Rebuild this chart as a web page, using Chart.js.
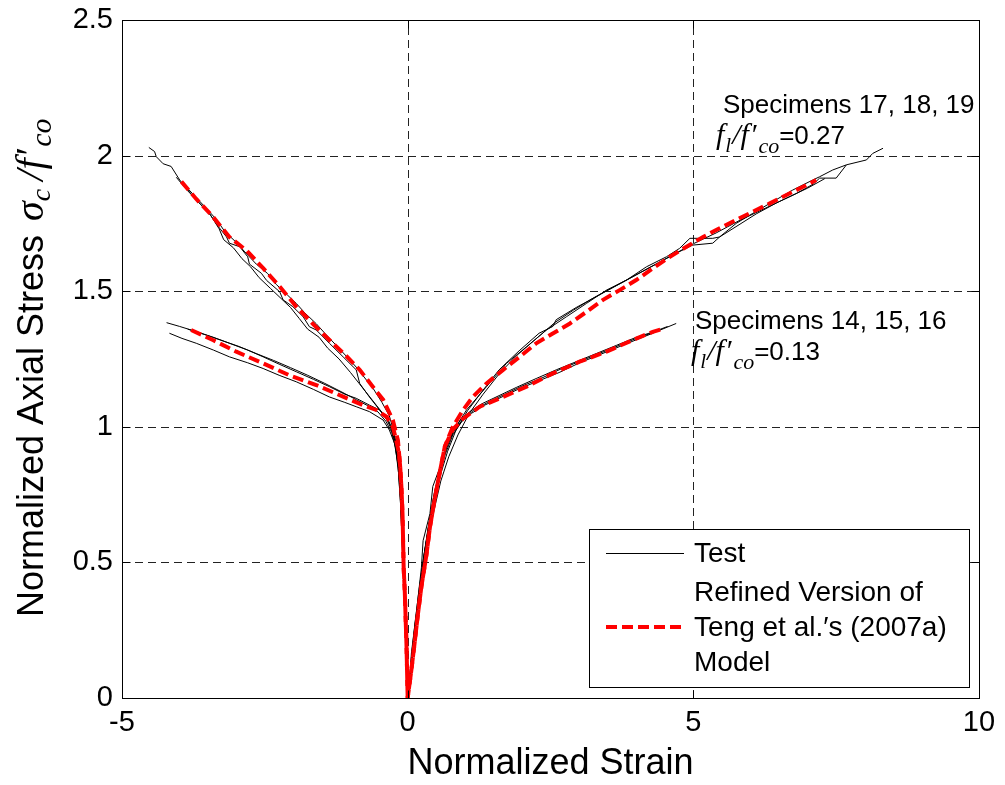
<!DOCTYPE html>
<html>
<head>
<meta charset="utf-8">
<script src="https://cdn.jsdelivr.net/npm/chart.js@4.4.1/dist/chart.umd.min.js"></script>
<style>
html,body{margin:0;padding:0;background:#fff;}
#wrap{width:1005px;height:785px;position:relative;}
</style>
</head>
<body>
<div id="wrap"><canvas id="c" width="1005" height="785"></canvas></div>
<script>
// ---------- axis ticks ----------
const xTickValues = [-5, 0, 5, 10];
const xTickLabels = ['-5', '0', '5', '10'];
const yTickValues = [0, 0.5, 1, 1.5, 2, 2.5];
const yTickLabels = ['0', '0.5', '1', '1.5', '2', '2.5'];

const xTitle = 'Normalized Strain';
const yTitle = 'Normalized Axial Stress ';
const legendTest = 'Test';
const legendModel = ['Refined Version of', 'Teng et al.\u2032s (2007a)', 'Model'];

// ---------- Specimen 17 (f_l/f'co = 0.27) ----------
const s17LatStrain = [-4.53,-4.43,-4.40,-4.28,-4.14,-3.99,-3.70,-3.47,-3.32,-3.17,-3.12,-2.94,-2.80,-2.77,-2.56,-2.47,-2.24,-2.18,-2.01,-1.83,-1.72,-1.60,-1.37,-1.13,-0.90,-0.84,-0.67,-0.49,-0.32,-0.23,-0.16,-0.12,-0.09,-0.06,-0.03,0];
const s17LatStress = [2.03,2.015,1.996,1.97,1.96,1.91,1.836,1.787,1.74,1.70,1.677,1.664,1.627,1.60,1.566,1.54,1.498,1.468,1.443,1.406,1.369,1.357,1.308,1.258,1.21,1.16,1.11,1.062,1.013,0.95,0.85,0.72,0.55,0.38,0.18,0];
const s17AxStrain = [0.035,0.065,0.15,0.24,0.27,0.39,0.44,0.59,0.74,1.03,1.38,1.73,2.08,2.43,2.78,3.13,3.48,3.83,4.18,4.53,4.76,4.94,5.17,5.34,5.46,5.75,6.04,6.39,6.74,7.09,7.21,7.44,7.68,8.03,8.14,8.32];
const s17AxStress = [0.066,0.165,0.31,0.48,0.58,0.68,0.78,0.865,0.963,1.062,1.148,1.234,1.295,1.357,1.406,1.455,1.504,1.541,1.59,1.627,1.658,1.695,1.695,1.695,1.70,1.75,1.787,1.83,1.873,1.91,1.922,1.947,1.966,1.984,2.008,2.027];

// ---------- Specimen 18 ----------
const s18LatStrain = [-4.05,-3.85,-3.62,-3.45,-3.30,-3.22,-3.05,-2.90,-2.75,-2.60,-2.40,-2.20,-2.05,-1.90,-1.75,-1.55,-1.40,-1.20,-1.00,-0.85,-0.70,-0.55,-0.40,-0.28,-0.20,-0.15,-0.11,-0.08,-0.05,-0.02,0];
const s18LatStress = [1.92,1.87,1.82,1.78,1.73,1.69,1.66,1.62,1.59,1.55,1.51,1.47,1.44,1.40,1.36,1.33,1.29,1.25,1.20,1.16,1.12,1.08,1.04,0.99,0.93,0.83,0.70,0.55,0.37,0.17,0];
const s18AxStrain = [0.03,0.07,0.13,0.20,0.28,0.36,0.46,0.57,0.70,0.85,1.05,1.30,1.60,1.95,2.30,2.54,2.60,2.95,3.30,3.65,4.00,4.35,4.70,4.99,5.34,5.46,5.80,6.10,6.45,6.80,7.10,7.21,7.50,7.68];
const s18AxStress = [0.06,0.16,0.28,0.40,0.52,0.62,0.72,0.82,0.91,0.99,1.06,1.13,1.21,1.28,1.345,1.37,1.395,1.44,1.48,1.52,1.56,1.60,1.64,1.67,1.677,1.70,1.745,1.785,1.825,1.86,1.895,1.917,1.917,1.966];

// ---------- Specimen 19 ----------
const s19LatStrain = [-3.90,-3.70,-3.50,-3.35,-3.20,-3.00,-2.85,-2.65,-2.45,-2.30,-2.10,-1.95,-1.80,-1.60,-1.45,-1.25,-1.05,-0.90,-0.75,-0.60,-0.45,-0.32,-0.24,-0.17,-0.13,-0.10,-0.07,-0.04,-0.015,0];
const s19LatStress = [1.89,1.845,1.80,1.765,1.72,1.68,1.645,1.60,1.565,1.525,1.485,1.455,1.42,1.38,1.345,1.30,1.255,1.22,1.18,1.14,1.09,1.04,0.98,0.90,0.80,0.66,0.50,0.33,0.15,0];
const s19AxStrain = [0.04,0.08,0.14,0.21,0.29,0.37,0.47,0.58,0.72,0.88,1.08,1.32,1.62,1.92,2.25,2.58,2.90,3.25,3.60,3.95,4.30,4.65,5.00,5.40,5.80,6.20,6.60,7.00,7.30];
const s19AxStress = [0.05,0.14,0.26,0.38,0.50,0.60,0.70,0.80,0.89,0.97,1.05,1.12,1.20,1.265,1.325,1.385,1.43,1.475,1.515,1.555,1.595,1.635,1.675,1.715,1.76,1.80,1.84,1.88,1.915];

// ---------- Specimen 14 (f_l/f'co = 0.13) ----------
const s14LatStrain = [-4.22,-3.99,-3.70,-3.40,-3.12,-2.80,-2.53,-2.25,-1.95,-1.65,-1.37,-1.10,-0.90,-0.67,-0.49,-0.34,-0.26,-0.20,-0.15,-0.11,-0.08,-0.05,-0.02,0];
const s14LatStress = [1.384,1.37,1.351,1.33,1.308,1.283,1.258,1.231,1.203,1.175,1.148,1.12,1.105,1.08,1.062,1.025,0.988,0.939,0.85,0.72,0.56,0.38,0.17,0];
const s14AxStrain = [0.04,0.08,0.15,0.23,0.30,0.38,0.46,0.56,0.67,0.80,0.96,1.15,1.40,1.70,2.00,2.35,2.70,3.00,3.35,3.70,4.05,4.40,4.70];
const s14AxStress = [0.06,0.16,0.29,0.42,0.54,0.65,0.75,0.84,0.92,0.98,1.025,1.06,1.09,1.12,1.15,1.18,1.215,1.24,1.27,1.30,1.33,1.355,1.381];

// ---------- Specimen 15 ----------
const s15LatStrain = [-4.17,-3.95,-3.70,-3.40,-3.12,-2.80,-2.53,-2.25,-1.95,-1.65,-1.37,-1.10,-0.90,-0.67,-0.43,-0.32,-0.23,-0.17,-0.13,-0.10,-0.07,-0.04,-0.015,0];
const s15LatStress = [1.345,1.326,1.308,1.283,1.258,1.236,1.215,1.19,1.166,1.138,1.11,1.09,1.074,1.056,1.025,0.988,0.939,0.86,0.74,0.60,0.44,0.28,0.13,0];
const s15AxStrain = [0.03,0.07,0.13,0.21,0.28,0.36,0.45,0.55,0.66,0.79,0.95,1.12,1.35,1.65,1.95,2.30,2.65,3.00,3.35,3.70,4.05,4.35];
const s15AxStress = [0.05,0.15,0.27,0.40,0.52,0.63,0.73,0.82,0.90,0.97,1.02,1.05,1.08,1.11,1.14,1.17,1.20,1.235,1.265,1.295,1.325,1.35];

// ---------- Specimen 16 ----------
const s16LatStrain = [-3.85,-3.55,-3.25,-2.95,-2.65,-2.35,-2.05,-1.75,-1.45,-1.15,-0.90,-0.70,-0.52,-0.38,-0.28,-0.21,-0.16,-0.12,-0.09,-0.06,-0.03,0];
const s16LatStress = [1.36,1.34,1.318,1.296,1.27,1.245,1.218,1.19,1.16,1.128,1.10,1.078,1.055,1.02,0.98,0.92,0.83,0.70,0.54,0.37,0.18,0];
const s16AxStrain = [0.035,0.075,0.14,0.22,0.29,0.37,0.455,0.55,0.66,0.78,0.92,1.08,1.30,1.60,1.90,2.25,2.60,2.95,3.30,3.65,4.00,4.30,4.55];
const s16AxStress = [0.055,0.155,0.28,0.41,0.53,0.64,0.74,0.83,0.91,0.975,1.025,1.055,1.085,1.115,1.145,1.178,1.21,1.24,1.27,1.30,1.33,1.35,1.37];

// ---------- Model, f_l/f'co = 0.27 ----------
const m27LatStrain = [-3.96,-3.70,-3.41,-3.12,-2.82,-2.53,-2.24,-1.95,-1.66,-1.37,-1.07,-0.84,-0.61,-0.43,-0.26,-0.17,-0.13,-0.11,-0.09,-0.08,-0.07,-0.05,-0.035,-0.02,0];
const m27LatStress = [1.904,1.84,1.775,1.70,1.65,1.585,1.517,1.443,1.38,1.32,1.26,1.21,1.148,1.10,1.025,0.95,0.85,0.78,0.68,0.58,0.48,0.39,0.29,0.19,0];
const m27AxStrain = [0.065,0.12,0.18,0.24,0.33,0.39,0.47,0.56,0.65,0.79,0.97,1.14,1.38,1.67,1.96,2.25,2.54,2.84,3.13,3.42,3.71,4.0,4.29,4.59,4.88,5.17,5.46,5.75,6.04,6.34,6.63,6.92,7.15];
const m27AxStress = [0.103,0.20,0.31,0.41,0.53,0.63,0.73,0.83,0.927,1.0,1.062,1.11,1.16,1.21,1.258,1.308,1.344,1.381,1.424,1.468,1.504,1.541,1.584,1.627,1.664,1.70,1.732,1.763,1.793,1.824,1.855,1.885,1.91];

// ---------- Model, f_l/f'co = 0.13 ----------
const m13LatStrain = [-3.79,-3.41,-3.0,-2.53,-2.07,-1.60,-1.13,-0.78,-0.55,-0.37,-0.26,-0.20,-0.15,-0.13,-0.11,-0.09,-0.08,-0.07,-0.05,-0.035,-0.02,0];
const m13LatStress = [1.357,1.32,1.277,1.234,1.19,1.154,1.111,1.08,1.062,1.037,1.00,0.95,0.90,0.85,0.78,0.68,0.58,0.48,0.39,0.29,0.19,0];
const m13AxStrain = [0.065,0.12,0.18,0.24,0.33,0.39,0.47,0.56,0.65,0.79,0.97,1.26,1.67,2.08,2.54,3.01,3.48,3.94,4.29,4.50];
const m13AxStress = [0.103,0.20,0.31,0.41,0.53,0.63,0.73,0.83,0.927,0.99,1.03,1.074,1.11,1.148,1.197,1.24,1.277,1.32,1.35,1.363];

// ---------- helpers ----------
function curve(latX, latY, axX, axY) {
  const xs = latX.concat(axX), ys = latY.concat(axY);
  return xs.map((v, i) => ({x: v, y: ys[i]}));
}
const SANS = '"Liberation Sans", Arial, Helvetica, sans-serif';
const SERIF = '"Liberation Serif", "Times New Roman", serif';

function testSet(data) {
  return {data, showLine: true, borderColor: '#000', borderWidth: 1, pointRadius: 0, tension: 0, fill: false, order: 1};
}
function modelSet(data) {
  return {data, showLine: true, borderColor: '#ff0000', borderWidth: 4, borderDash: [11, 5], pointRadius: 0, tension: 0, fill: false, order: 0};
}

function drawRuns(ctx, x, y, runs) {
  let cx = x;
  for (const r of runs) {
    ctx.font = r.font;
    cx += (r.pre || 0);
    ctx.fillText(r.text, cx, y + (r.dy || 0));
    cx += ctx.measureText(r.text).width + (r.kern || 0);
  }
}

const decorPlugin = {
  id: 'decor',
  beforeDatasetsDraw(chart) {
    const {ctx, chartArea: a, scales: {x, y}} = chart;
    ctx.save();
    ctx.strokeStyle = '#222';
    ctx.lineWidth = 1;
    ctx.setLineDash([8, 5]);
    for (const v of xTickValues) {
      if (v === x.min || v === x.max) continue;
      const px = Math.round(x.getPixelForValue(v)) + 0.5;
      ctx.beginPath(); ctx.moveTo(px, a.bottom); ctx.lineTo(px, a.top); ctx.stroke();
    }
    for (const v of yTickValues) {
      if (v === y.min || v === y.max) continue;
      const py = Math.round(y.getPixelForValue(v)) + 0.5;
      ctx.beginPath(); ctx.moveTo(a.left, py); ctx.lineTo(a.right, py); ctx.stroke();
    }
    ctx.restore();
  },
  afterDatasetsDraw(chart) {
    const {ctx, chartArea: a, scales: {x, y}} = chart;
    ctx.save();
    // frame
    ctx.strokeStyle = '#000';
    ctx.lineWidth = 1;
    ctx.setLineDash([]);
    const L = Math.round(a.left) + 0.5, R = Math.round(a.right) + 0.5;
    const T = Math.round(a.top) + 0.5, B = Math.round(a.bottom) + 0.5;
    ctx.strokeRect(L, T, R - L, B - T);
    // inward ticks
    const tl = 8;
    ctx.beginPath();
    for (const v of xTickValues) {
      const px = Math.round(x.getPixelForValue(v)) + 0.5;
      ctx.moveTo(px, B); ctx.lineTo(px, B - tl);
      ctx.moveTo(px, T); ctx.lineTo(px, T + tl);
    }
    for (const v of yTickValues) {
      const py = Math.round(y.getPixelForValue(v)) + 0.5;
      ctx.moveTo(L, py); ctx.lineTo(L + tl, py);
      ctx.moveTo(R, py); ctx.lineTo(R - tl, py);
    }
    ctx.stroke();

    // annotations
    ctx.fillStyle = '#000';
    ctx.textBaseline = 'alphabetic';
    ctx.textAlign = 'left';
    ctx.font = '26px ' + SANS;
    ctx.fillText('Specimens 17, 18, 19', 723, 113);
    ctx.fillText('Specimens 14, 15, 16', 695, 329);
    const ratioRuns = (val) => [
      {text: 'f', font: 'italic 30px ' + SERIF, kern: 1},
      {text: 'l', font: 'italic 21px ' + SERIF, dy: 8, kern: 1},
      {text: '/', font: 'italic 30px ' + SERIF},
      {text: 'f', font: 'italic 30px ' + SERIF, kern: 3},
      {text: '\u2032', font: '30px ' + SERIF},
      {text: 'co', font: 'italic 22px ' + SERIF, dy: 9},
      {text: '=' + val, font: '26px ' + SANS}
    ];
    drawRuns(ctx, 716, 144, ratioRuns('0.27'));
    drawRuns(ctx, 691, 360, ratioRuns('0.13'));

    // legend
    const lx = 589.5, ly = 529.5, lw = 380, lh = 158;
    ctx.fillStyle = '#fff';
    ctx.fillRect(lx, ly, lw, lh);
    ctx.strokeStyle = '#000';
    ctx.lineWidth = 1;
    ctx.strokeRect(lx, ly, lw, lh);
    ctx.beginPath(); ctx.moveTo(606, 553.5); ctx.lineTo(684, 553.5); ctx.stroke();
    ctx.strokeStyle = '#ff0000';
    ctx.lineWidth = 4;
    ctx.setLineDash([11, 5]);
    ctx.beginPath(); ctx.moveTo(606, 627); ctx.lineTo(682, 627); ctx.stroke();
    ctx.setLineDash([]);
    ctx.fillStyle = '#000';
    ctx.font = '28px ' + SANS;
    ctx.textBaseline = 'middle';
    ctx.fillText(legendTest, 694, 554);
    const rows = [593, 628, 663];
    legendModel.forEach((t, i) => ctx.fillText(t, 694, rows[i]));
    ctx.restore();
  },
  afterDraw(chart) {
    const {ctx, chartArea: a} = chart;
    ctx.save();
    ctx.fillStyle = '#000';
    ctx.textBaseline = 'alphabetic';
    ctx.font = '36px ' + SANS;
    ctx.textAlign = 'center';
    ctx.fillText(xTitle, (a.left + a.right) / 2, 774);
    ctx.textAlign = 'left';
    ctx.translate(43, 617);
    ctx.rotate(-Math.PI / 2);
    drawRuns(ctx, 0, 0, [
      {text: yTitle, font: '36px ' + SANS},
      {text: '\u03C3', font: 'italic 40px ' + SERIF, pre: 4},
      {text: 'c', font: 'italic 28px ' + SERIF, dy: 7, kern: 8},
      {text: '/', font: 'italic 40px ' + SERIF},
      {text: 'f', font: 'italic 40px ' + SERIF, kern: 3},
      {text: '\u2032', font: '40px ' + SERIF},
      {text: 'co', font: 'italic 30px ' + SERIF, dy: 8}
    ]);
    ctx.restore();
  }
};

new Chart(document.getElementById('c'), {
  type: 'scatter',
  data: {
    datasets: [
      modelSet(curve(m27LatStrain, m27LatStress, m27AxStrain, m27AxStress)),
      modelSet(curve(m13LatStrain, m13LatStress, m13AxStrain, m13AxStress)),
      testSet(curve(s17LatStrain, s17LatStress, s17AxStrain, s17AxStress)),
      testSet(curve(s18LatStrain, s18LatStress, s18AxStrain, s18AxStress)),
      testSet(curve(s19LatStrain, s19LatStress, s19AxStrain, s19AxStress)),
      testSet(curve(s14LatStrain, s14LatStress, s14AxStrain, s14AxStress)),
      testSet(curve(s15LatStrain, s15LatStress, s15AxStrain, s15AxStress)),
      testSet(curve(s16LatStrain, s16LatStress, s16AxStrain, s16AxStress))
    ]
  },
  options: {
    responsive: false,
    animation: false,
    devicePixelRatio: 1,
    layout: {padding: {top: 20, right: 26, left: 0, bottom: 0}},
    plugins: {legend: {display: false}, tooltip: {enabled: false}},
    scales: {
      x: {
        type: 'linear', min: -5, max: 10,
        afterBuildTicks: (s) => { s.ticks = xTickValues.map(v => ({value: v})); },
        afterFit: (s) => { s.height = 87; },
        ticks: {
          callback: (v) => xTickLabels[xTickValues.indexOf(v)],
          font: {size: 29, family: SANS}, color: '#000', padding: 0,
          maxRotation: 0, autoSkip: false
        },
        grid: {display: false},
        border: {display: false}
      },
      y: {
        type: 'linear', min: 0, max: 2.5,
        afterBuildTicks: (s) => { s.ticks = yTickValues.map(v => ({value: v})); },
        afterFit: (s) => { s.width = 122; },
        ticks: {
          callback: (v) => yTickLabels[yTickValues.indexOf(v)],
          font: {size: 29, family: SANS}, color: '#000', padding: 1,
          autoSkip: false
        },
        grid: {display: false},
        border: {display: false}
      }
    }
  },
  plugins: [decorPlugin]
});
</script>
</body>
</html>
